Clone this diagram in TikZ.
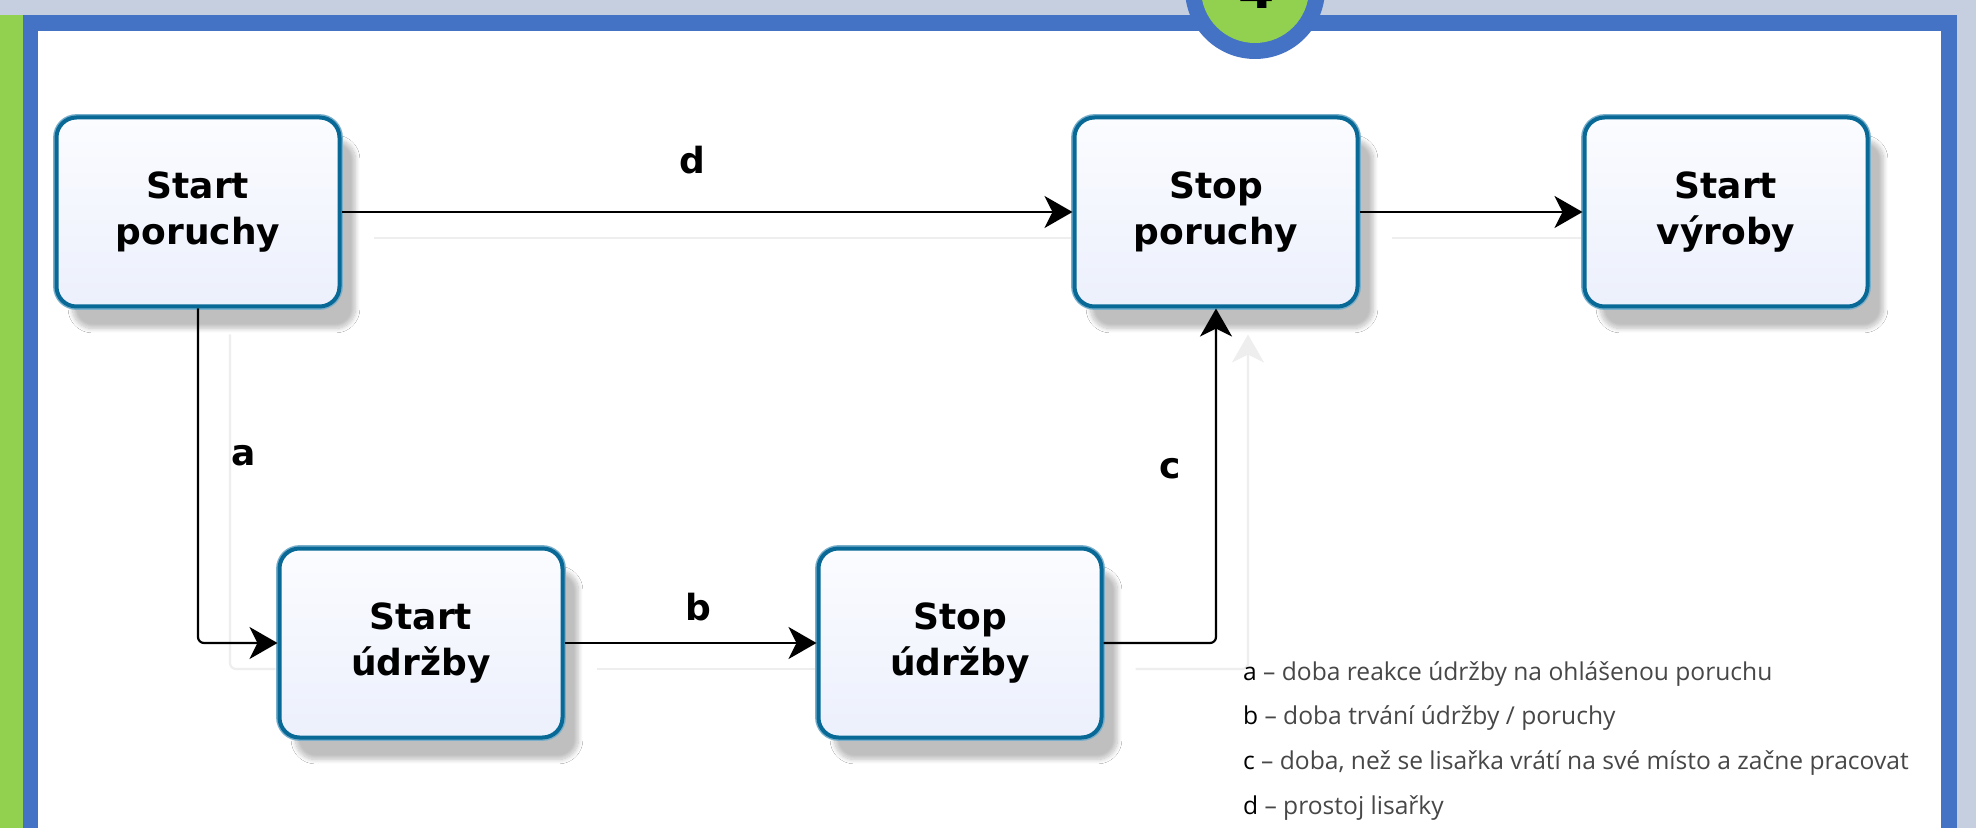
\documentclass[tikz,border=0pt]{standalone}
\usepackage{fontspec}
\setmainfont{DejaVu Sans}
\newfontfamily\legendfont{Open Sans}
\usetikzlibrary{arrows.meta,shadows.blur}
\definecolor{framebg}{RGB}{197,207,224}
\definecolor{frameblue}{RGB}{68,114,196}
\definecolor{framegreen}{RGB}{146,208,80}
\definecolor{boxedge}{RGB}{8,104,150}
\definecolor{boxrim}{RGB}{122,175,203}
\definecolor{boxtop}{RGB}{251,252,255}
\definecolor{boxbottom}{RGB}{236,240,252}
\definecolor{connshade}{RGB}{238,238,238}
\tikzset{
  event/.style={rectangle, rounded corners=10pt, minimum width=141.5pt, minimum height=94.5pt,
    blur shadow={shadow xshift=8pt, shadow yshift=-11pt, shadow blur steps=10, shadow opacity=25},
    preaction={draw=boxrim, line width=3.4pt},
    draw=boxedge, line width=2pt, top color=boxtop, bottom color=boxbottom,
    align=center, font=\fontsize{18}{23}\selectfont\bfseries},
  conn/.style={-{Stealth[length=14pt,width=16pt,inset=4pt]}, line width=1.1pt, rounded corners=3pt},
  connshadow/.style={line width=1.1pt, rounded corners=3pt, draw=connshade},
  lbl/.style={font=\fontsize{18}{18}\selectfont\bfseries},
  legend/.style={anchor=base west, text=black!72, font=\legendfont\fontsize{12.3}{14}\selectfont}
}
\begin{document}
\begin{tikzpicture}[x=0.5pt, y=-0.5pt]
\useasboundingbox (0,0) rectangle (1976,828);
% frame and badge
\fill[framebg] (0,0) rectangle (1976,828);
\fill[framegreen] (0,15) rectangle (23,828);
\fill[frameblue] (23,15) rectangle (1957,828);
\fill[white] (38,31) rectangle (1941,828);
\begin{scope}
  \clip (0,0) rectangle (1976,828);
  \fill[frameblue] (1255,-11) circle[radius=35pt];
  \fill[framegreen] (1255,-11) circle[radius=27pt];
  \node[anchor=base, font=\fontsize{26}{26}\selectfont\bfseries] (badge) at (1257,9) {4};
\end{scope}
% events
\foreach \name/\x/\y/\txt in {sp/198/212/{Start\\poruchy}, stp/1216/212/{Stop\\poruchy},
    sv/1726/212/{Start\\výroby}, su/421/643/{Start\\údržby}, stu/960/643/{Stop\\údržby}}
  \node[event] (\name) at (\x,\y) {\txt};
% connector shadows
\begin{scope}[transform canvas={shift={(16pt,-13pt)}}]
  \draw[connshadow, shorten >=17pt] (sp) -- (stp);
  \draw[connshadow, shorten >=17pt] (stp) -- (sv);
  \draw[connshadow, shorten >=17pt] (sp) |- (su);
  \draw[connshadow, shorten >=17pt] (su) -- (stu);
  \draw[connshadow, -{Stealth[length=14pt,width=16pt,inset=4pt]}] (stu) -| (stp);
\end{scope}
% connectors
\draw[conn] (sp) -- node[lbl, pos=0.48, yshift=26pt] {d} (stp);
\draw[conn] (stp) -- (sv);
\draw[conn] (sp) |- node[lbl, pos=0.22, xshift=23pt] {a} (su);
\draw[conn] (su) -- node[lbl, pos=0.53, yshift=18pt] {b} (stu);
\draw[conn] (stu) -| node[lbl, pos=0.76, xshift=-23pt] {c} (stp);
% legend
\foreach \k/\txt [count=\i from 0] in {a/{doba reakce údržby na ohlášenou poruchu},
    b/{doba trvání údržby / poruchy}, c/{doba, než se lisařka vrátí na své místo a začne pracovat},
    d/{prostoj lisařky}}
  \node[legend] (leg\k) at (1236,{680+44.7*\i}) {{\color{black}\k} – \txt};
\end{tikzpicture}
\end{document}
